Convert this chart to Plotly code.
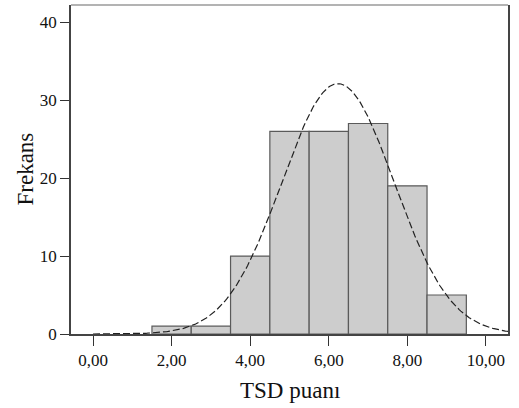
import numpy as np
import plotly.graph_objects as go

bin_centers = [2, 3, 4, 5, 6, 7, 8, 9]
frequencies = [1, 1, 10, 26, 26, 27, 19, 5]
x_tick_vals = [0, 2, 4, 6, 8, 10]
x_tick_text = ["0,00", "2,00", "4,00", "6,00", "8,00", "10,00"]
y_tick_vals = [0, 10, 20, 30, 40]
x_title = "TSD puanı"
y_title = "Frekans"

# normal curve derived from the histogram data
c = np.array(bin_centers, dtype=float)
f = np.array(frequencies, dtype=float)
n = f.sum()
mean = (c * f).sum() / n
sd = np.sqrt(((c - mean) ** 2 * f).sum() / (n - 1))
xs = np.linspace(0, 10.6, 300)
ys = n * 1.0 / (sd * np.sqrt(2 * np.pi)) * np.exp(-0.5 * ((xs - mean) / sd) ** 2)

fig = go.Figure()
fig.add_trace(go.Bar(
    x=bin_centers, y=frequencies, width=1,
    marker=dict(color="#cdcdcd", line=dict(color="#5a5a5a", width=1.2)),
    hoverinfo="skip",
))
fig.add_trace(go.Scatter(
    x=xs, y=ys, mode="lines",
    line=dict(color="#222222", width=1.2, dash="7px,3px"),
    hoverinfo="skip",
))

font_family = "Liberation Serif, Times New Roman, serif"
fig.update_layout(
    width=519, height=408,
    margin=dict(l=71, r=11, t=5, b=74),
    paper_bgcolor="white", plot_bgcolor="white",
    showlegend=False,
    font=dict(family=font_family, color="#111111", size=17),
    xaxis=dict(
        range=[-0.56, 10.56], tickvals=x_tick_vals, ticktext=x_tick_text,
        ticks="outside", ticklen=10, tickcolor="#333333", tickwidth=1,
        showline=True, linecolor="#444444", linewidth=1.5, mirror=False,
        showgrid=False, zeroline=False, automargin=False,
        tickfont=dict(size=17),
    ),
    yaxis=dict(
        range=[0, 42.2], tickvals=y_tick_vals,
        ticks="outside", ticklen=9, tickcolor="#333333", tickwidth=1,
        showline=True, linecolor="#444444", linewidth=1.5, mirror=True,
        showgrid=False, zeroline=False, automargin=False,
        tickfont=dict(size=17),
    ),
    shapes=[dict(type="line", xref="paper", yref="paper", x0=0, x1=1, y0=1, y1=1,
                 line=dict(color="#9a9a9a", width=1.5))],
    annotations=[
        dict(text=x_title, xref="paper", yref="paper", x=0.5, y=0, yshift=-56,
             xanchor="center", yanchor="middle", showarrow=False,
             font=dict(size=23, family=font_family, color="#111111")),
        dict(text=y_title, xref="paper", yref="paper", x=0, y=0.5, xshift=-46,
             xanchor="center", yanchor="middle", showarrow=False, textangle=-90,
             font=dict(size=23, family=font_family, color="#111111")),
    ],
)
fig.write_html("out.html", config={"displayModeBar": False},
               post_script="document.body.style.margin='0';document.body.style.padding='0';")
